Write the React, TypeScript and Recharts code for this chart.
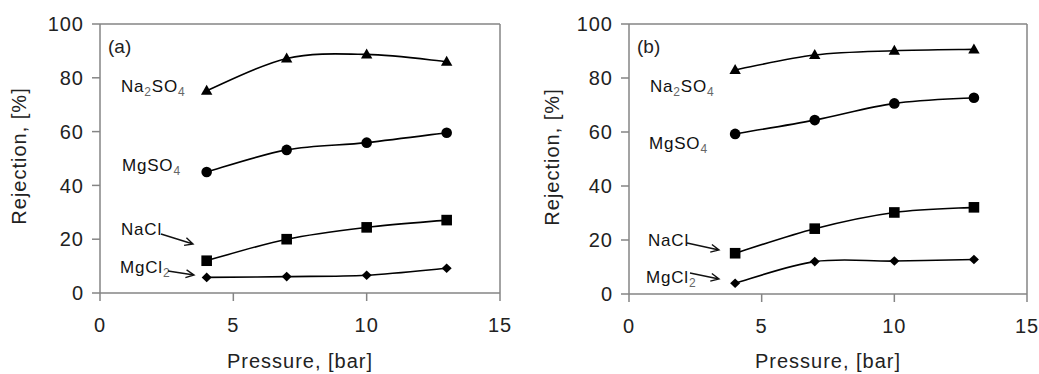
import React from "react";
import { LineChart, Line, XAxis, YAxis, ReferenceLine } from "recharts";

// pressure points, bar
const pressure = [4, 7, 10, 13];

// panel (a)
const na2so4A = [75.2, 87.2, 88.7, 86.0];
const mgso4A = [45.0, 53.2, 55.9, 59.6];
const naclA = [12.0, 20.0, 24.4, 27.1];
const mgcl2A = [5.8, 6.1, 6.6, 9.2];

// panel (b)
const na2so4B = [83.0, 88.5, 90.1, 90.6];
const mgso4B = [59.3, 64.4, 70.6, 72.7];
const naclB = [15.1, 24.2, 30.2, 32.1];
const mgcl2B = [4.0, 12.0, 12.2, 12.8];

const xTicks = [0, 5, 10, 15];
const yTicks = [0, 20, 40, 60, 80, 100];

const FONT = "'Liberation Sans', Arial, Helvetica, sans-serif";
const AXIS = "#858585";
const INK = "#111";

// Excel-like smoothed line (Catmull-Rom through the points)
function smoothCurve(context: any) {
  let pts: number[][] = [];
  return {
    areaStart() {},
    areaEnd() {},
    lineStart() { pts = []; },
    point(x: number, y: number) { pts.push([+x, +y]); },
    lineEnd() {
      if (!pts.length) return;
      context.moveTo(pts[0][0], pts[0][1]);
      for (let i = 0; i < pts.length - 1; i++) {
        const p0 = pts[i - 1] || pts[i];
        const p1 = pts[i];
        const p2 = pts[i + 1];
        const p3 = pts[i + 2] || pts[i + 1];
        context.bezierCurveTo(
          p1[0] + (p2[0] - p0[0]) / 6, p1[1] + (p2[1] - p0[1]) / 6,
          p2[0] - (p3[0] - p1[0]) / 6, p2[1] - (p3[1] - p1[1]) / 6,
          p2[0], p2[1]
        );
      }
    },
  };
}

const Triangle = (p: any) => {
  const { cx, cy } = p;
  if (cx == null) return null;
  return <path key={p.index} d={`M${cx},${cy - 6}L${cx + 5.7},${cy + 4}L${cx - 5.7},${cy + 4}Z`} fill="#000" />;
};
const Dot = (p: any) => {
  const { cx, cy } = p;
  if (cx == null) return null;
  return <circle key={p.index} cx={cx} cy={cy} r={5.3} fill="#000" />;
};
const Square = (p: any) => {
  const { cx, cy } = p;
  if (cx == null) return null;
  return <rect key={p.index} x={cx - 5.3} y={cy - 5.3} width={10.6} height={10.6} fill="#000" />;
};
const Diamond = (p: any) => {
  const { cx, cy } = p;
  if (cx == null) return null;
  return <path key={p.index} d={`M${cx},${cy - 4.8}L${cx + 5},${cy}L${cx},${cy + 4.8}L${cx - 5},${cy}Z`} fill="#000" />;
};

function buildRows(a: number[], b: number[], c: number[], d: number[]) {
  return pressure.map((p, i) => ({ p, na2so4: a[i], mgso4: b[i], nacl: c[i], mgcl2: d[i] }));
}

const tickStyle = { fontSize: 20, fill: "#222", fontFamily: FONT, letterSpacing: 1 };

function Panel({ rows, width, margin }: { rows: any[]; width: number; margin: any }) {
  return (
    <LineChart width={width} height={374} data={rows} margin={margin}>
      <XAxis
        dataKey="p"
        type="number"
        domain={[0, 15]}
        ticks={xTicks}
        height={50}
        stroke={AXIS}
        strokeWidth={1.5}
        tickSize={8}
        tickMargin={17}
        tick={tickStyle}
      />
      <YAxis
        type="number"
        domain={[0, 100]}
        ticks={yTicks}
        width={60}
        stroke={AXIS}
        strokeWidth={1.5}
        tickSize={8}
        tickMargin={8}
        tick={tickStyle}
      />
      <ReferenceLine y={100} stroke={AXIS} strokeWidth={1.5} />
      <ReferenceLine x={15} stroke={AXIS} strokeWidth={1.5} />
      <Line dataKey="na2so4" type={smoothCurve as any} stroke="#000" strokeWidth={1.6} dot={Triangle} isAnimationActive={false} />
      <Line dataKey="mgso4" type={smoothCurve as any} stroke="#000" strokeWidth={1.6} dot={Dot} isAnimationActive={false} />
      <Line dataKey="nacl" type={smoothCurve as any} stroke="#000" strokeWidth={1.6} dot={Square} isAnimationActive={false} />
      <Line dataKey="mgcl2" type={smoothCurve as any} stroke="#000" strokeWidth={1.6} dot={Diamond} isAnimationActive={false} />
    </LineChart>
  );
}

function Chem({ x, y, parts }: { x: number; y: number; parts: [string, boolean][] }) {
  let shift = 0;
  return (
    <text x={x} y={y} fontSize={17} fill={INK} fontFamily={FONT} letterSpacing={0.8}>
      {parts.map(([t, sub], i) => {
        const dy = sub ? 4 - shift : -shift;
        shift = sub ? 4 : 0;
        return (
          <tspan key={i} dy={dy} fontSize={sub ? 12 : 17} fill={sub ? "#666" : INK}>
            {t}
          </tspan>
        );
      })}
    </text>
  );
}

function Arrow({ x1, y1, x2, y2 }: { x1: number; y1: number; x2: number; y2: number }) {
  const a = Math.atan2(y2 - y1, x2 - x1);
  const h = 9;
  const s = 0.45;
  const ax = x2 - h * Math.cos(a - s), ay = y2 - h * Math.sin(a - s);
  const bx = x2 - h * Math.cos(a + s), by = y2 - h * Math.sin(a + s);
  return (
    <path
      d={`M${x1},${y1}L${x2},${y2}M${ax},${ay}L${x2},${y2}L${bx},${by}`}
      stroke="#111"
      strokeWidth={1.4}
      fill="none"
    />
  );
}

const NA2SO4: [string, boolean][] = [["Na", false], ["2", true], ["SO", false], ["4", true]];
const MGSO4: [string, boolean][] = [["MgSO", false], ["4", true]];
const NACL: [string, boolean][] = [["NaCl", false]];
const MGCL2: [string, boolean][] = [["MgCl", false], ["2", true]];

export default function App() {
  return (
    <div style={{ position: "absolute", left: 0, top: 0, width: 1039, height: 374, background: "#fff" }}>
      <div style={{ position: "absolute", left: 0, top: 0 }}>
        <Panel rows={buildRows(na2so4A, mgso4A, naclA, mgcl2A)} width={520} margin={{ top: 24, right: 20, bottom: 31, left: 40 }} />
      </div>
      <div style={{ position: "absolute", left: 520, top: 0 }}>
        <Panel rows={buildRows(na2so4B, mgso4B, naclB, mgcl2B)} width={519} margin={{ top: 24, right: 12, bottom: 30, left: 49 }} />
      </div>
      <svg width={1039} height={374} style={{ position: "absolute", left: 0, top: 0, pointerEvents: "none" }}>
        {/* axis titles */}
        <text x={300} y={368} textAnchor="middle" fontSize={20} fill="#222" fontFamily={FONT} letterSpacing={1}>Pressure, [bar]</text>
        <text x={828} y={368} textAnchor="middle" fontSize={20} fill="#222" fontFamily={FONT} letterSpacing={1}>Pressure, [bar]</text>
        <text transform="translate(26,156) rotate(-90)" textAnchor="middle" fontSize={20} fill="#222" fontFamily={FONT} letterSpacing={1}>Rejection, [%]</text>
        <text transform="translate(559,157) rotate(-90)" textAnchor="middle" fontSize={20} fill="#222" fontFamily={FONT} letterSpacing={1}>Rejection, [%]</text>

        {/* panel (a) */}
        <text x={108} y={53} fontSize={19} fill="#222" fontFamily={FONT}>(a)</text>
        <Chem x={121} y={92} parts={NA2SO4} />
        <Chem x={122} y={171} parts={MGSO4} />
        <Chem x={121} y={235} parts={NACL} />
        <Chem x={120} y={273} parts={MGCL2} />
        <Arrow x1={161} y1={234} x2={193} y2={244} />
        <Arrow x1={168} y1={271} x2={194} y2={275} />

        {/* panel (b) */}
        <text x={637} y={53} fontSize={19} fill="#222" fontFamily={FONT}>(b)</text>
        <Chem x={650} y={92} parts={NA2SO4} />
        <Chem x={649} y={149} parts={MGSO4} />
        <Chem x={648} y={246} parts={NACL} />
        <Chem x={646} y={283} parts={MGCL2} />
        <Arrow x1={687} y1={243} x2={719} y2={250} />
        <Arrow x1={690} y1={273} x2={719} y2={279} />
      </svg>
    </div>
  );
}
